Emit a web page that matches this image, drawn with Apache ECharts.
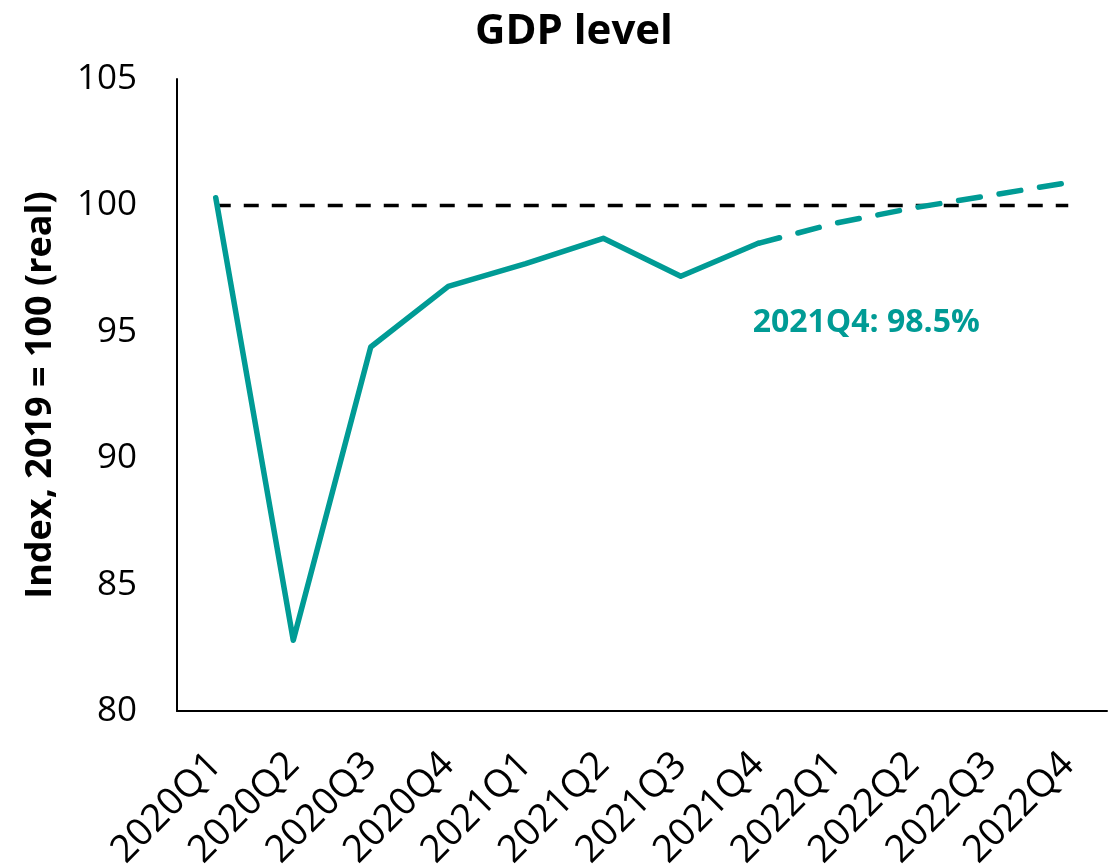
<!DOCTYPE html>
<html>
<head>
<meta charset="utf-8">
<script src="https://cdn.jsdelivr.net/npm/echarts@6/dist/echarts.min.js"></script>
<style>
  html, body { margin: 0; padding: 0; background: #fff; }
  #chart { width: 1114px; height: 865px; }
</style>
</head>
<body>
<div id="chart"></div>
<script>
// Quarterly GDP level, indexed to 2019 = 100
const quarters = ['2020Q1', '2020Q2', '2020Q3', '2020Q4', '2021Q1', '2021Q2',
                  '2021Q3', '2021Q4', '2022Q1', '2022Q2', '2022Q3', '2022Q4'];
const actual   = [100.3, 82.8, 94.4, 96.8, 97.7, 98.7, 97.2, 98.5, null, null, null, null];
const forecast = [null, null, null, null, null, null, null, 98.5, 99.3, 99.9, 100.4, 100.9];
const baseline = [100, 100, 100, 100, 100, 100, 100, 100, 100, 100, 100, 100];
const yTicks = { min: 80, max: 105, step: 5 };
const latestIdx = 7;

const teal = '#009B95';
const font = 'Open Sans';

const chart = echarts.init(document.getElementById('chart'), null, { renderer: 'canvas' });
chart.setOption({
  animation: false,
  backgroundColor: '#fff',
  title: {
    text: 'GDP level',
    left: 470,
    top: 6,
    textStyle: { fontFamily: font, fontWeight: 'bold', fontSize: 42, color: '#000' }
  },
  grid: { left: 177, right: 7, top: 79, bottom: 154, outerBoundsMode: 'none', containLabel: false },
  xAxis: {
    type: 'category',
    data: quarters,
    boundaryGap: true,
    axisLine: { lineStyle: { color: '#000', width: 2 } },
    axisTick: { show: false },
    axisLabel: {
      rotate: 45,
      margin: 48,
      interval: 0,
      color: '#000',
      fontFamily: font,
      fontSize: 38
    },
    splitLine: { show: false }
  },
  yAxis: {
    type: 'value',
    min: yTicks.min,
    max: yTicks.max,
    interval: yTicks.step,
    name: 'Index, 2019 = 100 (real)',
    nameLocation: 'middle',
    nameGap: 118,
    nameTextStyle: { fontFamily: font, fontWeight: 'bold', fontSize: 36, color: '#000' },
    axisLine: { show: true, lineStyle: { color: '#000', width: 2 } },
    axisTick: { show: false },
    axisLabel: { color: '#000', fontFamily: font, fontSize: 35, margin: 40 },
    splitLine: { show: false }
  },
  series: [
    {
      name: '2019 level',
      type: 'line',
      data: baseline,
      symbol: 'none',
      lineStyle: { color: '#000', width: 3.5, type: [15, 13] },
      z: 2
    },
    {
      name: 'Actual',
      type: 'line',
      data: actual.map(v => v === null ? '-' : v),
      symbol: 'none',
      lineStyle: { color: teal, width: 5.5, cap: 'round', join: 'round' },
      z: 3
    },
    {
      name: 'Projection',
      type: 'line',
      data: forecast.map(v => v === null ? '-' : v),
      symbol: 'none',
      lineStyle: { color: teal, width: 5.5, type: [22, 19], cap: 'round' },
      z: 3
    },
    {
      // Callout for the latest actual quarter
      name: 'Latest',
      type: 'scatter',
      data: [[quarters[latestIdx], actual[latestIdx]]],
      symbolSize: 1,
      itemStyle: { color: 'rgba(0,0,0,0)', opacity: 1 },
      label: {
        show: true,
        position: 'bottom',
        offset: [108, 58],
        formatter: (p) => p.value[0] + ': ' + p.value[1].toFixed(1) + '%',
        color: teal,
        fontFamily: font,
        fontWeight: 'bold',
        fontSize: 32
      },
      z: 4
    }
  ]
});
</script>
</body>
</html>
